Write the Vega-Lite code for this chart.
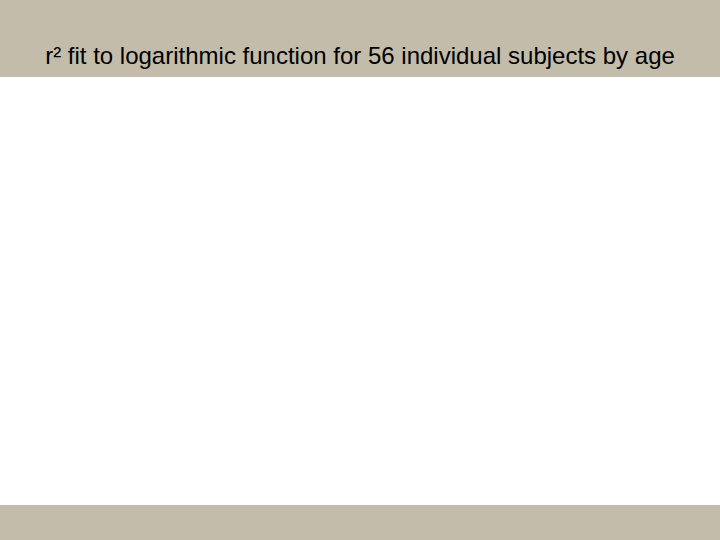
{
  "$schema": "https://vega.github.io/schema/vega-lite/v6.json",
  "width": 720,
  "height": 428,
  "autosize": {"type": "none"},
  "padding": {"top": 77, "bottom": 35, "left": 0, "right": 0},
  "background": "#c4bcab",
  "title": {
    "text": "r² fit to logarithmic function for 56 individual subjects by age",
    "font": "Liberation Sans",
    "fontSize": 24,
    "fontWeight": "normal",
    "color": "#000000",
    "anchor": "middle",
    "frame": "group",
    "baseline": "alphabetic",
    "offset": -11
  },
  "data": {"values": []},
  "mark": "point",
  "encoding": {
    "x": {"field": "age", "type": "quantitative", "axis": null},
    "y": {"field": "r2", "type": "quantitative", "axis": null}
  },
  "config": {
    "view": {"fill": "#ffffff", "stroke": null}
  }
}
